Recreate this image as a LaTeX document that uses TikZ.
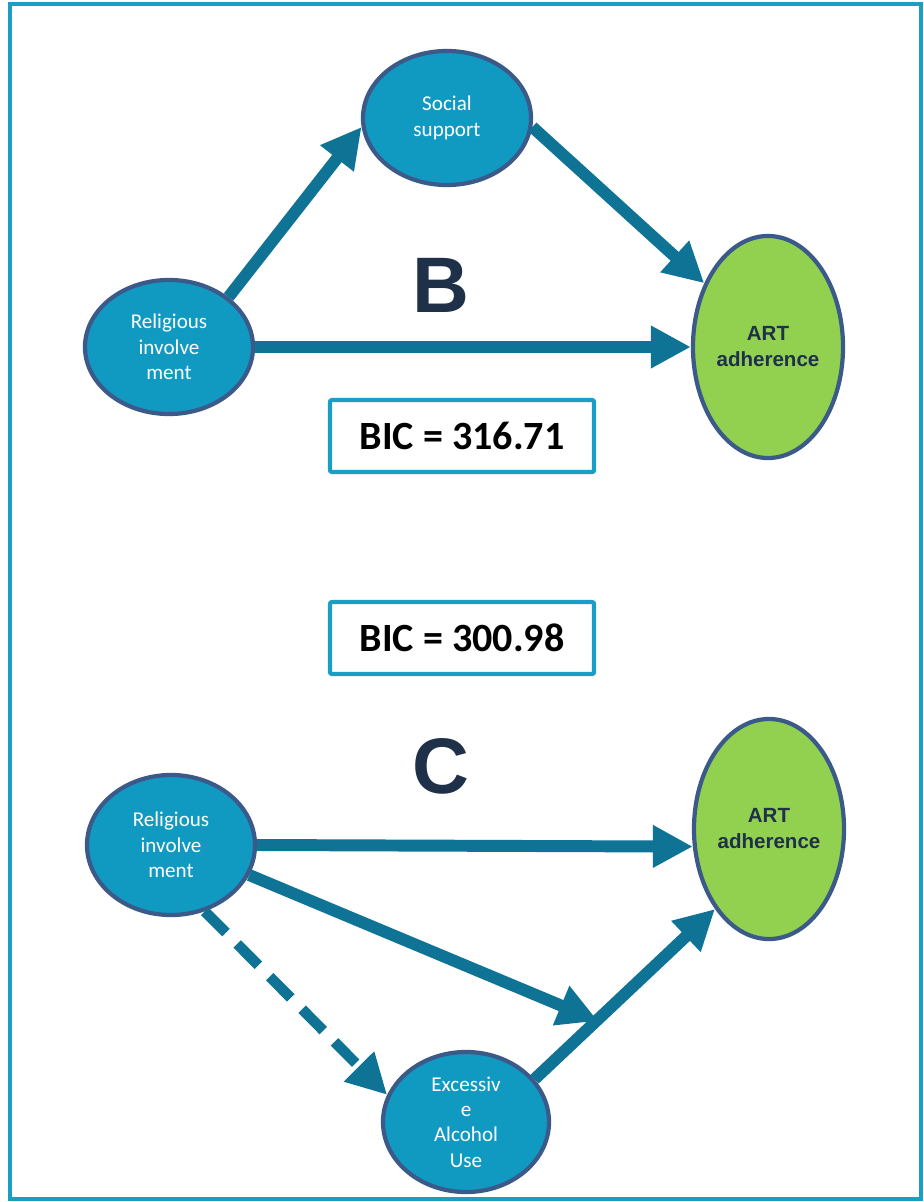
\documentclass[tikz,border=0pt]{standalone}
\usepackage{xcolor}
\usepackage{fontspec}
\usepackage{tikz}
\usetikzlibrary{shapes.geometric,arrows.meta}

\newfontfamily\calibrifont{Carlito}
\newfontfamily\arialfont{Liberation Sans}

\definecolor{nodeblue}{RGB}{16,154,194}
\definecolor{nodeedge}{RGB}{59,90,138}
\definecolor{artgreen}{RGB}{146,208,80}
\definecolor{arrowteal}{RGB}{14,115,148}
\definecolor{frameblue}{RGB}{26,158,198}
\definecolor{navy}{RGB}{31,48,73}

\begin{document}
\begin{tikzpicture}[
    x=0.025cm, y=-0.025cm,
    oval/.style={ellipse, draw=nodeedge, line width=3pt, fill=nodeblue, inner sep=0pt, align=center,
        text=white, font=\calibrifont\fontsize{15}{18}\selectfont, minimum width=4.2cm, minimum height=3.35cm},
    artoval/.style={oval, fill=artgreen, text=navy, font=\arialfont\bfseries\fontsize{14.6}{18.5}\selectfont,
        minimum width=3.75cm, minimum height=5.55cm},
    bicbox/.style={rectangle, rounded corners=1.5pt, draw=frameblue, line width=3pt, minimum width=6.6cm,
        minimum height=1.8cm, font=\calibrifont\bfseries\fontsize{28.5}{30}\selectfont},
    letter/.style={inner sep=0pt, text=navy, font=\arialfont\bfseries\fontsize{56}{56}\selectfont},
    arrow/.style={-{Triangle[length=1cm,width=1cm]}, arrowteal, line width=8.5pt}
]
    \useasboundingbox (0,0) rectangle (924,1202);
    \draw[frameblue, line width=3pt] (10,4) rectangle (921,1199);

    % Model B
    \node[oval] (socialB) at (447,118) {Social\\support};
    \node[oval] (religB) at (169,347) {Religious\\involve\\ment};
    \node[artoval] (artB) at (768,347) {ART\\adherence};
    \node[letter] (labelB) at (441,285) {B};
    \node[bicbox] (bicB) at (462,436) {BIC = 316.71};

    % Model C
    \node[bicbox] (bicC) at (462,638) {BIC = 300.98};
    \node[letter] (labelC) at (441,766) {C};
    \node[oval, minimum height=3.5cm] (religC) at (171,845) {Religious\\involve\\ment};
    \node[artoval, minimum height=5.5cm] (artC) at (769,829) {ART\\adherence};
    \node[oval, minimum width=4.15cm, minimum height=3.5cm] (alcoholC) at (466,1122) {Excessiv\\e\\Alcohol\\Use};
    \coordinate (midC) at (598,1021);

    % Arrows
    \draw[arrow] (religB.40) -- (socialB.186);
    \draw[arrow] (socialB.-6) -- (artB.135);
    \draw[arrow] (religB.east) -- (artB.west);

    \draw[arrow] (religC.east) -- (artC.193);
    \draw[arrow] (religC.-21) -- (midC);
    \draw[arrow] (alcoholC.32) -- (artC.236);
    \draw[arrow, line width=7.5pt, dash pattern=on 0.75cm off 0.4cm] (religC.-63) -- (alcoholC.161);
\end{tikzpicture}
\end{document}
